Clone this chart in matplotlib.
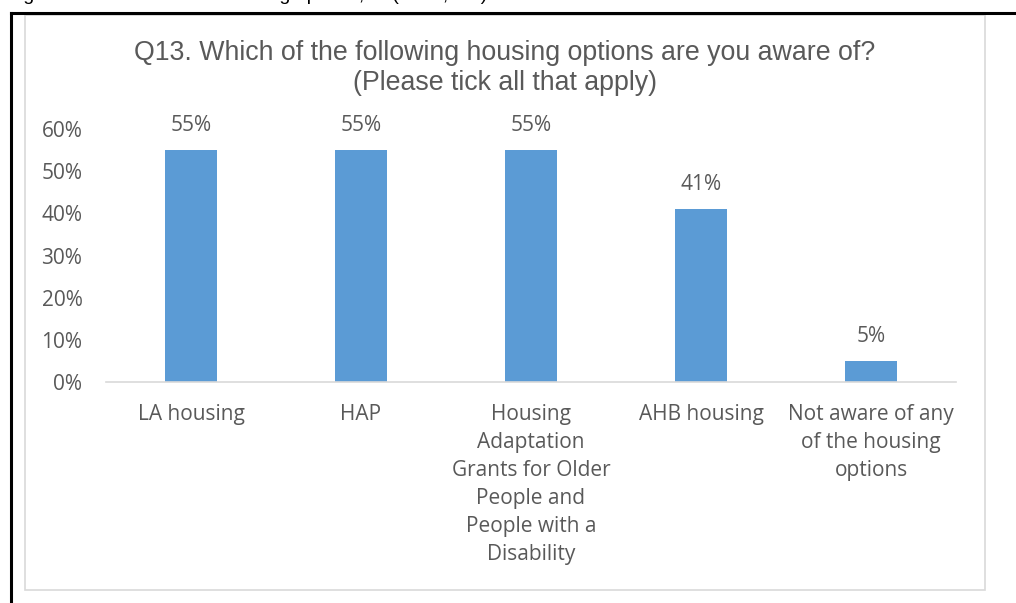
import matplotlib
matplotlib.use("Agg")
import matplotlib.pyplot as plt
from matplotlib.patches import Rectangle
from matplotlib.lines import Line2D
from matplotlib.ticker import FixedLocator, FuncFormatter

categories = [
    "LA housing",
    "HAP",
    "Housing\nAdaptation\nGrants for Older\nPeople and\nPeople with a\nDisability",
    "AHB housing",
    "Not aware of any\nof the housing\noptions",
]
values = [55, 55, 55, 41, 5]
y_ticks = [0, 10, 20, 30, 40, 50, 60]

title = "Q13. Which of the following housing options are you aware of?\n(Please tick all that apply)"
caption = "Figure 11: Awareness of housing options, % (n = 1,000)"

W, H = 1016, 603
fig = plt.figure(figsize=(W / 100, H / 100), dpi=100)
fig.patch.set_facecolor("white")

TEXT = "#595959"
BAR = "#5B9BD5"
GRID = "#D9D9D9"
body_font = ["Open Sans", "DejaVu Sans"]
FS = 15


def fx(px):
    return px / W


def fy(py):
    return 1 - py / H


# Caption line above the frame, mostly cut off by the top edge
fig.text(fx(7), fy(-0.5), caption, fontsize=14, family=["Liberation Sans"],
         color="black", ha="left", va="baseline")

# Black cell border (left and top)
fig.add_artist(Line2D([fx(11), fx(11)], [fy(13), 0], color="black", lw=2.2,
                      transform=fig.transFigure))
fig.add_artist(Line2D([fx(11), 1], [fy(13), fy(13)], color="black", lw=2.2,
                      transform=fig.transFigure))

# Light grey chart frame
fig.add_artist(Rectangle((fx(25), fy(590)), fx(985) - fx(25), fy(15) - fy(590),
                         transform=fig.transFigure, fill=False,
                         edgecolor=GRID, lw=1.2))

# Plot area
left, right, top, bottom = 106, 956, 129, 382
ax = fig.add_axes([fx(left), fy(bottom), fx(right) - fx(left), fy(top) - fy(bottom)])
x = list(range(len(categories)))
ax.bar(x, values, width=0.31, color=BAR, zorder=2)
ax.set_xlim(-0.5, len(categories) - 0.5)
ax.set_ylim(0, 60)
ax.yaxis.set_major_locator(FixedLocator(y_ticks))
ax.yaxis.set_major_formatter(FuncFormatter(lambda v, p: f"{v:.0f}%"))
for s in ["top", "right", "left"]:
    ax.spines[s].set_visible(False)
ax.spines["bottom"].set_color(GRID)
ax.spines["bottom"].set_linewidth(1.2)
ax.tick_params(axis="y", length=0, pad=17, labelsize=FS, labelcolor=TEXT)
ax.tick_params(axis="x", length=0, pad=16, labelsize=FS, labelcolor=TEXT)
ax.set_xticks(x)
ax.set_xticklabels(categories, linespacing=1.43)
for lab in ax.get_xticklabels() + ax.get_yticklabels():
    lab.set_family(body_font)
ax.set_facecolor("none")

for xi, v in zip(x, values):
    ax.annotate(f"{v}%", (xi, v), xytext=(0, 10), textcoords="offset points",
                ha="center", va="bottom", fontsize=FS, color=TEXT,
                family=body_font)

fig.text(fx(505), fy(68), title, ha="center", va="center", fontsize=19.3,
         color=TEXT, family=["Liberation Sans"], linespacing=1.15)

fig.savefig("out.png", dpi=100)
